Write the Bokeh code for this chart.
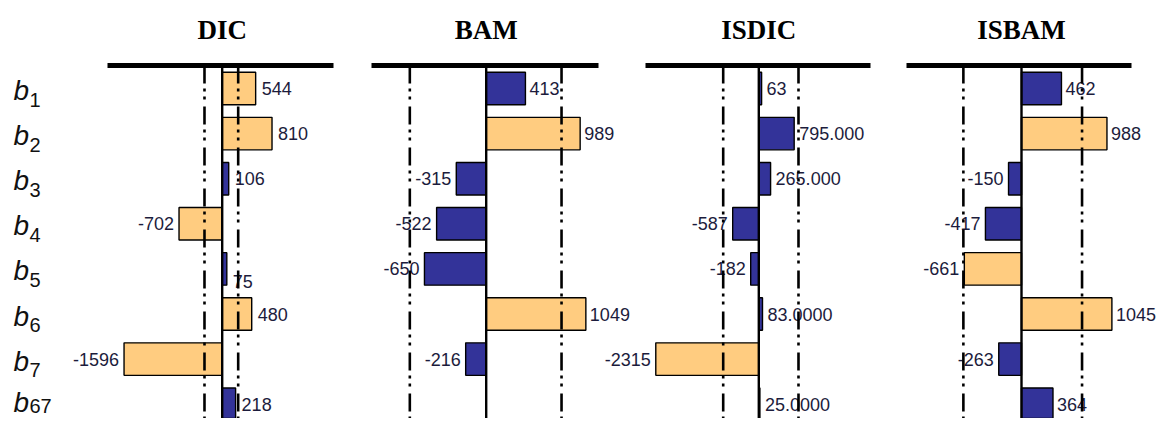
from bokeh.plotting import figure
from bokeh.models import Range1d, ColumnDataSource
from bokeh.core.properties import value
from bokeh.embed import file_html
from bokeh.resources import INLINE

# ---------------- data ----------------
row_subs = ["1", "2", "3", "4", "5", "6", "7", "67"]
panel_names = ["DIC", "BAM", "ISDIC", "ISBAM"]

dic_vals = [544, 810, 106, -702, 75, 480, -1596, 218]
dic_text = ["544", "810", "106", "-702", "75", "480", "-1596", "218"]
dic_sig = [1, 1, 0, 1, 0, 1, 1, 0]

bam_vals = [413, 989, -315, -522, -650, 1049, -216, None]
bam_text = ["413", "989", "-315", "-522", "-650", "1049", "-216", ""]
bam_sig = [0, 1, 0, 0, 0, 1, 0, 0]

isdic_vals = [63, 795, 265, -587, -182, 83, -2315, 25]
isdic_text = ["63", "795.000", "265.000", "-587", "-182", "83.0000", "-2315", "25.0000"]
isdic_sig = [0, 0, 0, 0, 0, 0, 1, 0]

isbam_vals = [462, 988, -150, -417, -661, 1045, -263, 364]
isbam_text = ["462", "988", "-150", "-417", "-661", "1045", "-263", "364"]
isbam_sig = [0, 1, 0, 0, 1, 1, 0, 0]

crit_lo = [-288, -804, -800, -672]
crit_hi = [260, 793, 892, 700]

panel_vals = [dic_vals, bam_vals, isdic_vals, isbam_vals]
panel_text = [dic_text, bam_text, isdic_text, isbam_text]
panel_sig = [dic_sig, bam_sig, isdic_sig, isbam_sig]

# ---------------- layout (pixels) ----------------
W, H = 1156, 418
ROW0 = 88.0      # canvas y of first row centre
ROWH = 45.1      # row spacing in px
zero_px = [221.7, 485.7, 758.3, 1021.0]
px_per_unit = [0.0615, 0.095, 0.0445, 0.0865]
line_left = [107, 371, 645, 906]
line_right = [333, 598, 870, 1131]
label_dy = {(0, 4): 13}   # DIC b5 label sits lower
pos_off = [6, 4, 5, 4]
neg_off = [-5, -5, -5, -5]

NAVY = "#333399"
ORANGE = "#FFCC80"
TXT = "#1c1c3c"

y_top = 1 - ROW0 / ROWH
y_bot = 1 + (H - ROW0) / ROWH
top_y = 1 + (65 - ROW0) / ROWH
title_y = 1 + (29 - ROW0) / ROWH

p = figure(width=W, height=H, output_backend="svg", toolbar_location=None,
           x_range=Range1d(0, W), y_range=Range1d(y_bot, y_top),
           x_axis_location=None, y_axis_location=None, title_location=None,
           min_border=0)
p.grid.visible = False
p.outline_line_color = None
p.background_fill_color = "white"
p.border_fill_color = "white"

ranges = {}
for k, name in enumerate(panel_names):
    z, s = zero_px[k], px_per_unit[k]
    ranges[name] = Range1d((0 - z) / s, (W - z) / s)
p.extra_x_ranges = ranges

ys = list(range(1, len(row_subs) + 1))

for k, name in enumerate(panel_names):
    vals = panel_vals[k]
    pos = dict(y=[], v=[], t=[], dy=[])
    neg = dict(y=[], v=[], t=[], dy=[])
    bars = dict(y=[], v=[], c=[])
    for i, v in enumerate(vals):
        if v is None:
            continue
        bars["y"].append(ys[i]); bars["v"].append(v)
        bars["c"].append(ORANGE if panel_sig[k][i] else NAVY)
        d = pos if v >= 0 else neg
        d["y"].append(ys[i]); d["v"].append(v); d["t"].append(panel_text[k][i])
        d["dy"].append(label_dy.get((k, i), 0))
    p.hbar(y="y", left=0, right="v", height=0.72, fill_color="c",
           line_color="black", line_width=1.4, x_range_name=name,
           source=ColumnDataSource(bars))
    p.text(x="v", y="y", text="t", y_offset="dy", x_offset=pos_off[k],
           text_align="left", text_baseline="middle",
           text_font=value("Liberation Sans"), text_font_size="18px",
           text_color=TXT, x_range_name=name, source=ColumnDataSource(pos))
    p.text(x="v", y="y", text="t", y_offset="dy", x_offset=neg_off[k],
           text_align="right", text_baseline="middle",
           text_font=value("Liberation Sans"), text_font_size="18px",
           text_color=TXT, x_range_name=name, source=ColumnDataSource(neg))
    # critical value lines
    p.segment(x0=[crit_lo[k], crit_hi[k]], x1=[crit_lo[k], crit_hi[k]],
              y0=[top_y, top_y], y1=[y_bot, y_bot], line_color="black",
              line_width=2.6, line_dash="18 5 3 5 3 7", x_range_name=name)
    # zero line
    p.segment(x0=[0], x1=[0], y0=[top_y], y1=[y_bot], line_color="black",
              line_width=2.4, x_range_name=name)
    # title
    p.text(x=[0], y=[title_y], text=[name], text_align="center",
           text_baseline="middle", text_font=value("Liberation Serif"),
           text_font_style="bold", text_font_size="27px", text_color="black",
           x_range_name=name)

# top thick lines
p.segment(x0=line_left, x1=line_right, y0=[top_y] * 4, y1=[top_y] * 4,
          line_color="black", line_width=5)

# row labels b_i (last one nudged up so it stays inside the canvas)
b_dy = [2] * 7 + [-2]
s_dy = [11] * 7 + [2]
p.text(x=[13] * len(ys), y=ys, text=["b"] * len(ys), y_offset=b_dy,
       text_align="left", text_baseline="middle",
       text_font=value("Liberation Sans"), text_font_style="italic",
       text_font_size="28px", text_color="#111111")
p.text(x=[29] * len(ys), y=ys, text=row_subs, y_offset=s_dy,
       text_align="left", text_baseline="middle",
       text_font=value("Liberation Sans"), text_font_size="20px",
       text_color="#111111")

open("out.html", "w").write(file_html(p, INLINE))
